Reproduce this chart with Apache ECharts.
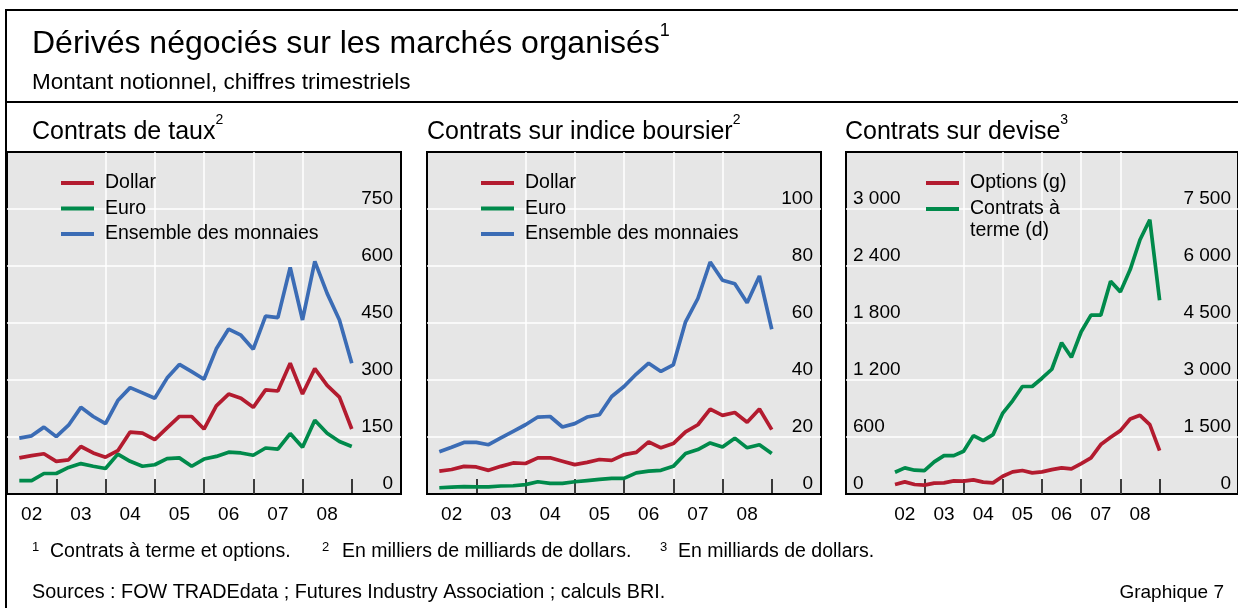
<!DOCTYPE html>
<html><head><meta charset="utf-8">
<script src="https://cdn.jsdelivr.net/npm/echarts@6/dist/echarts.min.js"></script>
<style>html,body{margin:0;padding:0;background:#fff}#c{width:1238px;height:608px}</style>
</head><body><div id="c"></div>
<script>
// ---- Data (notional amounts, quarter-end values) ----
const quarters = ['2002T1','2002T2','2002T3','2002T4','2003T1','2003T2','2003T3','2003T4',
  '2004T1','2004T2','2004T3','2004T4','2005T1','2005T2','2005T3','2005T4',
  '2006T1','2006T2','2006T3','2006T4','2007T1','2007T2','2007T3','2007T4',
  '2008T1','2008T2','2008T3','2008T4'];
const yearLabels = ['02','03','04','05','06','07','08'];

// Contrats de taux (milliers de milliards de dollars)
const tauxDollar = [95,101,106,86,90,125,108,97,114,163,160,143,174,204,204,171,232,263,252,228,274,271,344,263,330,286,255,171];
const tauxEuro   = [35,35,54,54,70,80,73,67,105,86,73,77,93,95,73,92,99,110,108,102,121,118,159,123,194,160,138,125];
const tauxTotal  = [147,153,176,151,181,228,204,185,246,280,266,252,305,341,322,302,382,434,418,381,468,464,596,458,612,528,458,344];

// Contrats sur indice boursier (milliers de milliards de dollars)
const indiceDollar = [8.0,8.6,9.7,9.5,8.3,9.7,10.9,10.7,12.7,12.7,11.5,10.3,11.1,12.1,11.8,13.8,14.6,18.3,16.2,17.7,21.8,24.3,29.8,27.6,28.6,25.2,29.8,22.6];
const indiceEuro   = [2.2,2.4,2.6,2.5,2.5,2.8,2.9,3.3,4.3,3.7,3.7,4.3,4.7,5.1,5.5,5.5,7.4,8.0,8.3,9.7,14.2,15.6,17.9,16.5,19.6,16.2,17.3,14.2];
const indiceTotal  = [14.8,16.4,18.1,18.1,17.3,19.7,22.0,24.3,27.0,27.2,23.5,24.7,27.0,27.8,34.2,37.7,42.1,45.9,43.0,45.3,60.4,68.6,81.4,75.0,73.8,67.1,76.5,57.8];

// Contrats sur devise (milliards de dollars)
const deviseOptions = [100,128,100,93,114,117,138,135,149,125,117,187,233,247,222,233,257,275,264,320,380,520,597,667,790,828,730,457];
const deviseTerme   = [574,687,626,617,845,1011,1011,1125,1536,1405,1562,2129,2453,2829,2829,3047,3283,3982,3597,4270,4707,4707,5598,5319,5905,6692,7216,5101];

// ---- Rendering ----
const FONT = '"Liberation Sans", Arial, sans-serif';
const RED = '#b31b2f', GREEN = '#008a4b', BLUE = '#3b6cb5', BG = '#e6e6e6';
const qx = q => Number(q.slice(0,4)) + Number(q.slice(5)) / 4; // quarter-end position
const pts = arr => quarters.map((q,i) => [qx(q), arr[i]]);
const fmt = v => String(v).replace(/\B(?=(\d{3})+(?!\d))/g, ' ');
const yearTicks = [2003,2004,2005,2006,2007,2008,2009];

function grid(left, width){
  return {left, top:152, width, height:342, show:true, backgroundColor:BG, borderColor:'#000', borderWidth:2, containLabel:false};
}
function valX(gi, min, max){
  return {type:'value', gridIndex:gi, min, max, position:'bottom',
    axisLine:{show:false},
    axisTick:{show:true, inside:true, length:15, customValues:yearTicks, lineStyle:{color:'#000', width:1.5}},
    splitLine:{show:true, showMinLine:false, showMaxLine:false, lineStyle:{color:'#fff', width:1.5}},
    axisLabel:{show:false}};
}
function catX(gi, data){
  return {type:'category', gridIndex:gi, data, boundaryGap:true, position:'bottom',
    axisLine:{show:false}, axisTick:{show:false}, splitLine:{show:false},
    axisLabel:{show:true, color:'#000', fontSize:19, fontFamily:FONT, margin:11, interval:0}};
}
function valY(gi, max, interval, pos, margin, split){
  return {type:'value', gridIndex:gi, min:0, max, interval, position:pos,
    axisLine:{show:false}, axisTick:{show:false},
    splitLine:{show:split, showMinLine:false, showMaxLine:false, lineStyle:{color:'#fff', width:1.5}},
    axisLabel:{inside:true, margin, verticalAlign:'bottom', padding:[0,0,1,0], color:'#000', fontSize:19, fontFamily:FONT,
      showMaxLabel:false, formatter:fmt}};
}
function line(name, data, color, xi, yi){
  return {type:'line', name, data, xAxisIndex:xi, yAxisIndex:yi, symbol:'none', showSymbol:false,
    lineStyle:{color, width:3.7}, itemStyle:{color}, emphasis:{disabled:true}, animation:false, z:3};
}
const legText = {color:'#000', fontSize:19.5, fontFamily:FONT, lineHeight:20, padding:[0,0,0,6]};
function legend(left, top, data, extra){
  return Object.assign({left, top, orient:'vertical', data, icon:'rect', itemWidth:33, itemHeight:4, itemGap:5.5,
    padding:0, selectedMode:false, itemStyle:{borderWidth:0}, textStyle:legText}, extra||{});
}
function sup(main){ return {m:{fontSize:main, fontFamily:FONT, fill:'#000', lineHeight:main+12}, s:{fontSize:Math.round(main*0.55), fontFamily:FONT, fill:'#000', lineHeight:Math.round(main*0.6), verticalAlign:'top'}}; }
function rtxt(x, y, text, main){
  return {type:'text', silent:true, style:{x, y, text, rich:sup(main), verticalAlign:'middle', align:'left', fill:'#000', fontFamily:FONT, fontSize:main}};
}
function ptxt(x, y, text, size, align){
  return {type:'text', silent:true, style:{x, y, text, fontSize:size, fontFamily:FONT, fill:'#000', verticalAlign:'middle', align:align||'left'}};
}

const chart = echarts.init(document.getElementById('c'), null, {renderer:'canvas'});
chart.setOption({
  animation:false,
  backgroundColor:'#fff',
  grid:[grid(7,394), grid(427,394), grid(846,395)],
  xAxis:[valX(0,2002,2010), catX(0,yearLabels.concat([''])),
         valX(1,2002,2010), catX(1,yearLabels.concat([''])),
         valX(2,2001,2011), catX(2,[''].concat(yearLabels,['',''])) ],
  yAxis:[valY(0,900,150,'right',8,true), valY(1,120,20,'right',8,true),
         valY(2,3600,600,'left',7,true), valY(2,9000,1500,'right',7,false)],
  legend:[
    legend(61,173,['Dollar','Euro','Ensemble des monnaies']),
    legend(481,173,['Dollar','Euro','Ensemble des monnaies']),
    legend(926,173,['Options (g)']),
    legend(926,176,['Contrats à terme (d)'], {formatter:() => ' \nContrats à\nterme (d)',
      textStyle:Object.assign({}, legText, {lineHeight:22})})
  ],
  series:[
    line('Euro', pts(tauxEuro), GREEN, 0, 0),
    line('Dollar', pts(tauxDollar), RED, 0, 0),
    line('Ensemble des monnaies', pts(tauxTotal), BLUE, 0, 0),
    line('Euro', pts(indiceEuro), GREEN, 2, 1),
    line('Dollar', pts(indiceDollar), RED, 2, 1),
    line('Ensemble des monnaies', pts(indiceTotal), BLUE, 2, 1),
    line('Options (g)', pts(deviseOptions), RED, 4, 2),
    line('Contrats à terme (d)', pts(deviseTerme), GREEN, 4, 3)
  ],
  graphic:[
    {type:'line', silent:true, shape:{x1:6,y1:10,x2:1238,y2:10}, style:{stroke:'#000', lineWidth:2}},
    {type:'line', silent:true, shape:{x1:6,y1:9,x2:6,y2:608}, style:{stroke:'#000', lineWidth:2}},
    {type:'line', silent:true, shape:{x1:6,y1:102,x2:1238,y2:102}, style:{stroke:'#000', lineWidth:2}},
    rtxt(32, 44, '{m|Dérivés négociés sur les marchés organisés}{s|1}', 32),
    ptxt(32, 83, 'Montant notionnel, chiffres trimestriels', 22.5),
    rtxt(32, 132, '{m|Contrats de taux}{s|2}', 25),
    rtxt(427, 132, '{m|Contrats sur indice boursier}{s|2}', 25),
    rtxt(845, 132, '{m|Contrats sur devise}{s|3}', 25),
    ptxt(32, 547, '1', 13),
    ptxt(50, 552, 'Contrats à terme et options.', 19.5),
    ptxt(322, 547, '2', 13),
    ptxt(342, 552, 'En milliers de milliards de dollars.', 19.5),
    ptxt(660, 547, '3', 13),
    ptxt(678, 552, 'En milliards de dollars.', 19.5),
    ptxt(32, 593, 'Sources : FOW TRADEdata ; Futures Industry Association ; calculs BRI.', 19.8),
    ptxt(1224, 593, 'Graphique 7', 19, 'right')
  ]
});
</script></body></html>
